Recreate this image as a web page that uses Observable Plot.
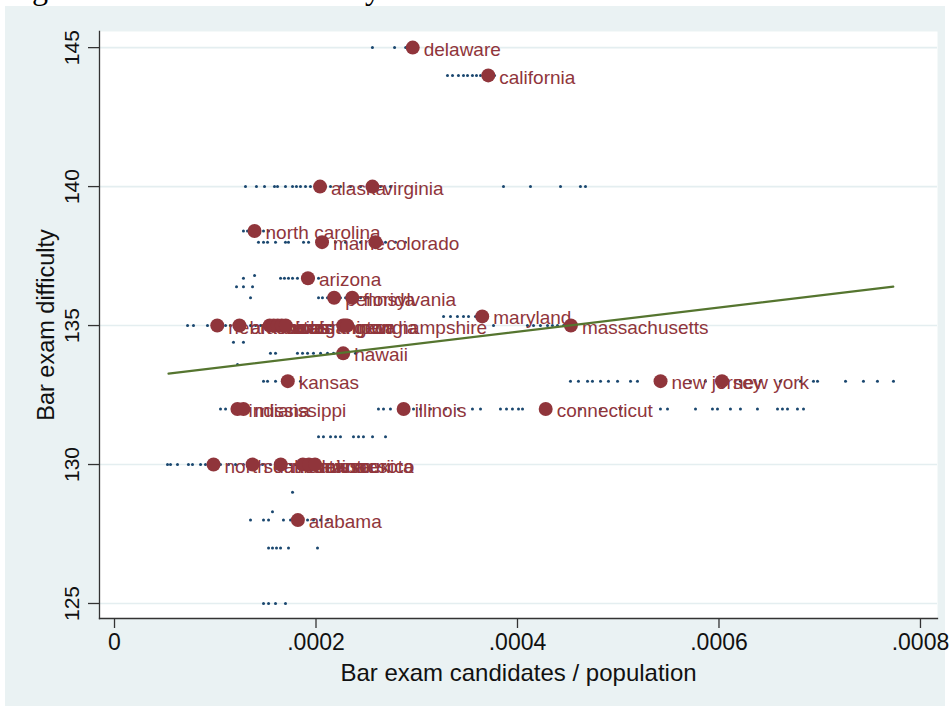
<!DOCTYPE html>
<html>
<head>
<meta charset="utf-8">
<script src="https://cdn.jsdelivr.net/npm/d3@7"></script>
<script src="https://cdn.jsdelivr.net/npm/@observablehq/plot@0.6"></script>
<style>
  html, body { margin: 0; padding: 0; background: #ffffff; width: 951px; height: 706px; overflow: hidden; }
  #cap { position: absolute; left: 5px; top: -28px; font-family: "Liberation Serif", "Times New Roman", serif; font-size: 32px; line-height: 32px; color: #000; white-space: nowrap; }
  #panel { position: absolute; left: 5px; top: 6px; width: 940px; height: 700px; background: #EAF2F3; }
</style>
</head>
<body>
<div id="cap">Figure 1: Bar exam difficulty</div>
<div id="panel"></div>
<script>
// ---- data ----
const states = ["delaware","california","alaska","virginia","north carolina","maine","colorado","arizona",
  "pennsylvania","florida","maryland","massachusetts",
  "nebraska","arkansas","michigan","ohio","texas","utah","washington","georgia","iowa","new hampshire",
  "hawaii","kansas","new jersey","new york","indiana","mississippi","illinois","connecticut",
  "north dakota","south dakota","montana","new mexico","missouri","minnesota","alabama"];
const stateX = [0.000296,0.000371,0.000204,0.000256,0.000139,0.000206,0.000259,0.000192,
  0.000218,0.000236,0.000365,0.000453,
  0.000102,0.000124,0.000154,0.000158,0.000162,0.000166,0.000170,0.000227,0.000229,0.000231,
  0.000227,0.000172,0.000542,0.000603,0.000122,0.000128,0.000287,0.000428,
  0.0000983,0.000137,0.000165,0.000187,0.000193,0.000199,0.000182];
const stateY = [145,144,140,140,138.4,138,138,136.7,
  136,136,135.33,135,
  135,135,135,135,135,135,135,135,135,135,
  134,133,133,133,132,132,132,132,
  130,130,130,130,130,130,128];

// yearly observations: difficulty level and candidates/population (in units of 1e-4)
const obsLevels = [145,144,140,138.4,138,136.8,136.7,136.4,136,135.33,135,134.4,134,133.6,133,132,131,130,129,128.3,128,127,125];
const obsX_e4 = [
  [2.56,2.78,2.89],
  [3.305,3.355,3.414,3.464,3.504,3.553,3.593,3.633,3.672,3.732,3.772],
  [1.300,1.409,1.489,1.588,1.618,1.697,1.767,1.806,1.846,1.896,1.945,1.995,2.094,2.144,2.243,2.342,2.442,2.640,2.739,3.861,4.129,4.427,4.625,4.675],
  [1.280,1.320,1.429,1.479,1.529],
  [1.429,1.479,1.519,1.598,1.697,1.727,1.876,1.926,2.194,2.293,2.442,2.690,2.789,2.888],
  [1.390],
  [1.280,1.648,1.687,1.727,1.767,1.816,1.866,1.975,2.025],
  [1.211,1.280,1.370],
  [1.350,2.025,2.064,2.114,2.243,2.293,2.442,2.501],
  [3.266,3.335,3.404,3.464,3.514,3.583],
  [0.725,0.784,0.923,0.973,1.102,1.151,1.201,1.350,1.400,1.449,1.499,1.747,1.846,1.945,2.045,2.144,3.762,4.099,4.159,4.228,4.298,4.347,4.397,4.457],
  [1.181,1.280],
  [1.548,1.598,1.816,1.866,1.916,1.975,2.045,2.114,2.174,2.392],
  [1.221],
  [1.479,1.519,1.598,1.667,1.846,4.526,4.605,4.695,4.744,4.824,4.903,4.993,5.122,5.191,5.717,5.866,6.213,6.412,6.610,6.809,6.938,6.978,7.256,7.434,7.573,7.732],
  [1.052,1.102,1.171,2.620,2.670,2.739,2.968,3.037,3.136,3.285,3.414,3.553,3.633,3.831,3.891,3.950,4.010,4.050,4.625,4.824,5.022,5.419,5.489,5.767,5.935,5.985,6.114,6.213,6.382,6.581,6.630,6.680,6.779,6.839],
  [2.025,2.074,2.144,2.194,2.243,2.372,2.422,2.471,2.561,2.690],
  [0.526,0.556,0.625,0.734,0.774,0.854,0.903,0.953,1.052,1.132,1.201,1.280,1.469,1.548,1.747,1.796,2.045],
  [1.767],
  [1.568],
  [1.350,1.479,1.529,1.677,1.747,1.846,1.916,1.975,2.045,2.114],
  [1.529,1.568,1.608,1.648,1.727,2.015],
  [1.479,1.529,1.598,1.697]
];

// linear fit endpoints
const fitX = [0.0000536, 0.000773];
const fitY = [133.27, 136.4];

const yTicks = [125,130,135,140,145];
const xTicks = [0,0.0002,0.0004,0.0006,0.0008];
const xTickLabels = ["0",".0002",".0004",".0006",".0008"];
const xTitle = "Bar exam candidates / population";
const yTitle = "Bar exam difficulty";

// ---- build tables ----
const stateData = states.map((s,i) => ({name: s, x: stateX[i], y: stateY[i]}));
const obsData = [];
obsLevels.forEach((lv,i) => obsX_e4[i].forEach(v => obsData.push({x: v*1e-4, y: lv})));
const fitData = fitX.map((x,i) => ({x, y: fitY[i]}));

const maroon = "#90353B", navy = "#1A476F", green = "#55752F", axisCol = "#333333";

const chart = Plot.plot({
  width: 940, height: 700,
  marginLeft: 94, marginRight: 8, marginTop: 25, marginBottom: 88,
  style: {background: "transparent", fontFamily: "'Liberation Sans', Arial, sans-serif", overflow: "visible"},
  x: {domain: [-1.49e-5, 8.169e-4]},
  y: {domain: [124.46, 145.58]},
  marks: [
    Plot.frame({fill: "white", stroke: "none"}),
    Plot.ruleY(yTicks, {stroke: "#E4EEF0", strokeWidth: 1.6}),
    Plot.axisY(yTicks, {tickSize: 11, tickFormat: () => "", stroke: axisCol, strokeWidth: 1.3, label: null}),
    Plot.text(yTicks, {y: d => d, text: d => String(d), frameAnchor: "left", dx: -21, rotate: -90,
      textAnchor: "middle", lineAnchor: "bottom", fontSize: 21, fill: "#111"}),
    Plot.axisX(xTicks, {tickSize: 10, tickPadding: 5, tickFormat: (d,i) => xTickLabels[i], fontSize: 23,
      stroke: axisCol, strokeWidth: 1.3, fill: "#111", label: null}),
    Plot.frame({anchor: "left", stroke: axisCol, strokeWidth: 1.3}),
    Plot.frame({anchor: "bottom", stroke: axisCol, strokeWidth: 1.3}),
    Plot.text([xTitle], {frameAnchor: "bottom", dy: 62, lineAnchor: "bottom", fontSize: 24, fill: "#111"}),
    Plot.text([yTitle], {frameAnchor: "left", dx: -46, rotate: -90, textAnchor: "middle", lineAnchor: "bottom", fontSize: 23.5, fill: "#111"}),
    Plot.dot(obsData, {x: "x", y: "y", r: 1.5, fill: navy, stroke: "none"}),
    Plot.dot(stateData, {x: "x", y: "y", r: 7, fill: maroon, stroke: "none"}),
    Plot.text(stateData, {x: "x", y: "y", text: "name", dx: 11, dy: 2, textAnchor: "start", fontSize: 19, fill: maroon}),
    Plot.line(fitData, {x: "x", y: "y", stroke: green, strokeWidth: 2.2})
  ]
});
document.getElementById("panel").appendChild(chart);

// fit the partly visible caption so that its "g" and final "y" descenders sit where the reference shows them
(function () {
  const cap = document.getElementById("cap");
  const node = cap.firstChild;
  const txt = node.textContent;
  const r = document.createRange();
  function charLeft(i) { r.setStart(node, i); r.setEnd(node, i + 1); return r.getBoundingClientRect().left; }
  const gi = txt.indexOf("g"), yi = txt.length - 1;
  let fs = 32;
  const d0 = charLeft(yi) - charLeft(gi);
  if (d0 > 0) { fs = 32 * 333 / d0; cap.style.fontSize = fs + "px"; cap.style.lineHeight = fs + "px"; }
  const gl = charLeft(gi);
  cap.style.left = (5 + 32 - gl) + "px";
  cap.style.top = (-1 - fs * 0.84) + "px";
})();
</script>
</body>
</html>
